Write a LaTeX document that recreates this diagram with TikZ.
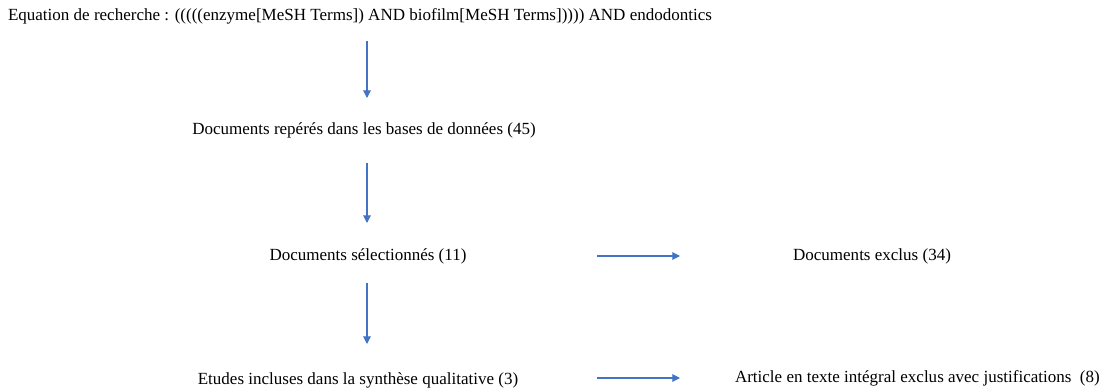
\documentclass[tikz,border=0pt]{standalone}
\usepackage{fontspec}
\setmainfont{Liberation Serif}
\usetikzlibrary{arrows.meta}
\definecolor{wordblue}{RGB}{68,114,196}

\begin{document}
\begin{tikzpicture}
[x=0.025cm,y=-0.025cm,
 every node/.style={inner sep=0mm,outer sep=0mm,font=\fontsize{12.1}{14}\selectfont},
 txt/.style={anchor=center},
 flow/.style={draw=wordblue,line width=0.75pt,-{Triangle[length=5.5pt,width=5.5pt]}}]
\useasboundingbox (0,0) rectangle (1110,392);
\node[anchor=west] (eq)     at (8,16)    {Equation de recherche : (((((enzyme[MeSH Terms]) AND biofilm[MeSH Terms])))) AND endodontics};
\node[txt]         (repere) at (364,130) {Documents repérés dans les bases de données (45)};
\node[txt]         (selec)  at (368,256) {Documents sélectionnés (11)};
\node[txt]         (exclus) at (872,256) {Documents exclus (34)};
\node[txt]         (incl)   at (358,380) {Etudes incluses dans la synthèse qualitative (3)};
\node[anchor=west] (justif) at (735,378) {Article en texte intégral exclus avec justifications\ \ (8)};
\coordinate (v1a) at (367,41);  \coordinate (v1b) at (367,98);
\coordinate (v2a) at (367,163); \coordinate (v2b) at (367,223);
\coordinate (v3a) at (367,283); \coordinate (v3b) at (367,344);
\coordinate (h1a) at (597,256); \coordinate (h1b) at (680,256);
\coordinate (h2a) at (597,378); \coordinate (h2b) at (680,378);
\draw[flow] (v1a) -- (v1b);
\draw[flow] (v2a) -- (v2b);
\draw[flow] (v3a) -- (v3b);
\draw[flow] (h1a) -- (h1b);
\draw[flow] (h2a) -- (h2b);
\end{tikzpicture}
\end{document}
